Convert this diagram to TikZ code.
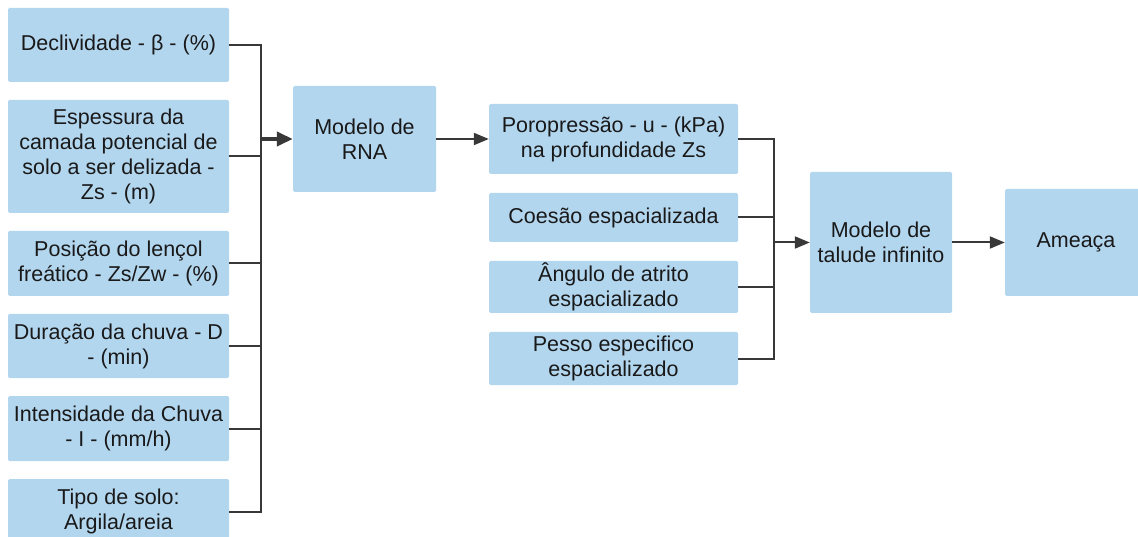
\documentclass[tikz,border=0pt]{standalone}
\usepackage{fontspec}
\setmainfont{Liberation Sans}
\usetikzlibrary{arrows.meta}
\definecolor{boxblue}{HTML}{B3D6EF}
\definecolor{linegray}{HTML}{383838}
\begin{document}
\begin{tikzpicture}[x=1pt,y=-1pt,
  box/.style={fill=boxblue,draw=none,rounded corners=1.5pt,inner sep=0pt,align=center,
    font=\fontsize{21.5}{25}\selectfont,text=black!90},
  conn/.style={draw=linegray,line width=2pt},
  arr/.style={conn,-{Triangle[length=15pt,width=12pt]}},
  boldarr/.style={draw=linegray,line width=4pt,-{Triangle[length=16pt,width=14pt]}}
]
\useasboundingbox (0,0) rectangle (1138,537);
\begin{scope}
\clip (0,0) rectangle (1138,537);
% left column
\node[box,minimum width=221pt,minimum height=74pt] (b1) at (118.5,45) {Declividade - β - (\%)};
\node[box,minimum width=221pt,minimum height=113pt] (b2) at (118.5,156.5) {Espessura da\\camada potencial de\\solo a ser delizada -\\Zs - (m)};
\node[box,minimum width=221pt,minimum height=65pt] (b3) at (118.5,263.5) {Posição do lençol\\freático - Zs/Zw - (\%)};
\node[box,minimum width=221pt,minimum height=64pt] (b4) at (118.5,346) {Duração da chuva - D\\- (min)};
\node[box,minimum width=221pt,minimum height=65pt] (b5) at (118.5,428.5) {Intensidade da Chuva\\- I - (mm/h)};
\node[box,minimum width=221pt,minimum height=65pt] (b6) at (118.5,511.5) {Tipo de solo:\\Argila/areia};
% RNA
\node[box,minimum width=143pt,minimum height=106pt] (rna) at (364.5,139) {Modelo de\\RNA};
% middle column
\node[box,minimum width=249pt,minimum height=70pt] (m1) at (613.5,139) {Poropressão - u - (kPa)\\na profundidade Zs};
\node[box,minimum width=249pt,minimum height=49pt] (m2) at (613.5,217.5) {Coesão espacializada};
\node[box,minimum width=249pt,minimum height=52pt] (m3) at (613.5,287) {Ângulo de atrito\\espacializado};
\node[box,minimum width=249pt,minimum height=53pt] (m4) at (613.5,358.5) {Pesso especifico\\espacializado};
% right
\node[box,minimum width=142pt,minimum height=141pt] (tal) at (881,242.5) {Modelo de\\talude infinito};
\node[box,minimum width=142pt,minimum height=107pt] (ame) at (1076,242.5) {Ameaça};
\end{scope}
% buses
\coordinate (busL) at (261,0);
\coordinate (busM) at (774,0);
\foreach \n in {b1,b2,b3,b4,b5,b6}{
  \draw[conn] (\n.east) -- (\n.east -| busL);
}
\draw[conn,line cap=rect] (b1.east -| busL) -- (b6.east -| busL);
\draw[boldarr] (rna.west -| busL) -- (rna.west);
\draw[arr] (rna.east) -- (m1.west);
\foreach \n in {m1,m2,m3,m4}{
  \draw[conn] (\n.east) -- (\n.east -| busM);
}
\draw[conn,line cap=rect] (m1.east -| busM) -- (m4.east -| busM);
\draw[arr] (tal.west -| busM) -- (tal.west);
\draw[arr] (tal.east) -- (ame.west);
\end{tikzpicture}
\end{document}
